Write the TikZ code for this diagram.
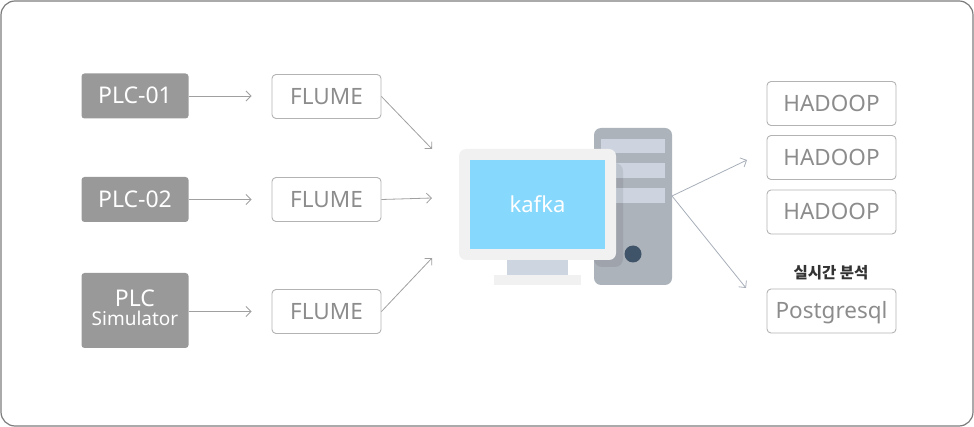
\documentclass[tikz,border=0pt]{standalone}
\usepackage{fontspec}
\setmainfont{Noto Sans}
\newfontfamily\krfont{Noto Sans CJK KR}
\usetikzlibrary{positioning, arrows.meta}

\definecolor{plcgray}{HTML}{999999}
\definecolor{boxline}{HTML}{B3B3B3}
\definecolor{boxtext}{HTML}{8C8C8C}
\definecolor{arrowgray}{HTML}{A0A0A0}
\definecolor{arrowblue}{HTML}{A7AEB8}
\definecolor{framegray}{HTML}{7C7C7C}
\definecolor{screenblue}{HTML}{87D8FD}
\definecolor{monframe}{HTML}{F1F1F1}
\definecolor{neckgray}{HTML}{CDD5E0}
\definecolor{towergray}{HTML}{ADB3BB}
\definecolor{slotgray}{HTML}{CDD4DF}
\definecolor{buttonblue}{HTML}{3F5468}
\definecolor{labeldark}{HTML}{333333}

\begin{document}
\begin{tikzpicture}[x=1pt, y=-1pt,
    plcbox/.style={fill=plcgray, rounded corners=3pt, minimum width=107pt, minimum height=45pt,
        inner sep=0pt, text=white, font=\fontsize{23}{24}\selectfont, text height=16pt, text depth=0pt},
    outbox/.style={draw=boxline, line width=0.9pt, rounded corners=4pt, minimum height=44pt,
        inner sep=0pt, text=boxtext, font=\fontsize{22.5}{24}\selectfont, text height=16pt, text depth=0pt},
    flow/.style={draw=arrowgray, line width=0.8pt, -{Straight Barb[length=5pt,width=10pt]}},
    flowout/.style={draw=arrowblue, line width=0.8pt, -{Straight Barb[length=5pt,width=10pt]}}]
            \useasboundingbox (0,0) rectangle (974,427);
            \draw[framegray, line width=1.2pt, rounded corners=14pt] (1,1) rectangle (973,426);
            % sources
            \node[plcbox] (plcA) at (135,96) {PLC-01};
            \node[plcbox] (plcB) at (135,199.5) {PLC-02};
            \node[plcbox, minimum height=75pt, align=center, text height=33pt, text depth=2pt] (plcS) at (135,310.5)
                {PLC\\[-5pt]{\fontsize{19}{21}\selectfont Simulator}};
            % flume
            \node[outbox, minimum width=109pt] (flumeA) at (326.5,96.5) {FLUME};
            \node[outbox, minimum width=109pt] (flumeB) at (326.5,199.5) {FLUME};
            \node[outbox, minimum width=109pt] (flumeC) at (326.5,311.5) {FLUME};
            \draw[flow, shorten >=20pt] (plcA.east) -- (flumeA.west |- plcA.east);
            \draw[flow, shorten >=20pt] (plcB.east) -- (flumeB.west |- plcB.east);
            \draw[flow, shorten >=20pt] (plcS.east |- flumeC.west) -- (flumeC.west);
            % computer
            \fill[towergray, rounded corners=7pt] (594,128) rectangle (672,285);
            \node[fill=slotgray, minimum width=64pt, minimum height=14.5pt, inner sep=0pt] (slotA) at (633,146) {};
            \node[fill=slotgray, minimum width=64pt, minimum height=14.5pt, inner sep=0pt] (slotB) at (633,170.5) {};
            \node[fill=slotgray, minimum width=64pt, minimum height=14.5pt, inner sep=0pt] (slotC) at (633,195.5) {};
            \fill[black, fill opacity=0.08, rounded corners=8pt] (594,163) rectangle (623,267);
            \fill[buttonblue] (633,254) circle (8.5);
            \fill[neckgray] (507,258) rectangle (568,275);
            \fill[monframe] (494,275) rectangle (581,285);
            \fill[monframe, rounded corners=7pt] (459,149) rectangle (616,260);
            \node[fill=screenblue, minimum width=135pt, minimum height=89pt, inner sep=0pt, text=white,
                font=\fontsize{22}{24}\selectfont] (kafka) at (537.5,204.5) {kafka};
            \coordinate (kinA) at (432,149);
            \coordinate (kinB) at (432,198);
            \coordinate (kinC) at (432,258);
            \draw[flow] (flumeA.east) -- (kinA);
            \draw[flow] (flumeB.east) -- (kinB);
            \draw[flow] (flumeC.east) -- (kinC);
            % sinks
            \node[outbox, minimum width=129pt] (hadoopA) at (831.5,103.5) {HADOOP};
            \node[outbox, minimum width=129pt] (hadoopB) at (831.5,157.5) {HADOOP};
            \node[outbox, minimum width=129pt] (hadoopC) at (831.5,212) {HADOOP};
            \node[outbox, minimum width=129pt] (pgsql) at (831.5,311) {Postgresql};
            \node[text=labeldark, font=\krfont\bfseries\fontsize{15.5}{17}\selectfont, inner sep=0pt] (rtlabel)
                at (831,273) {실시간 분석};
            \coordinate (hub) at (672,196);
            \coordinate (hin) at (747,160);
            \coordinate (pin) at (746,288);
            \draw[flowout] (hub) -- (hin);
            \draw[flowout] (hub) -- (pin);
        \end{tikzpicture}
\end{document}
